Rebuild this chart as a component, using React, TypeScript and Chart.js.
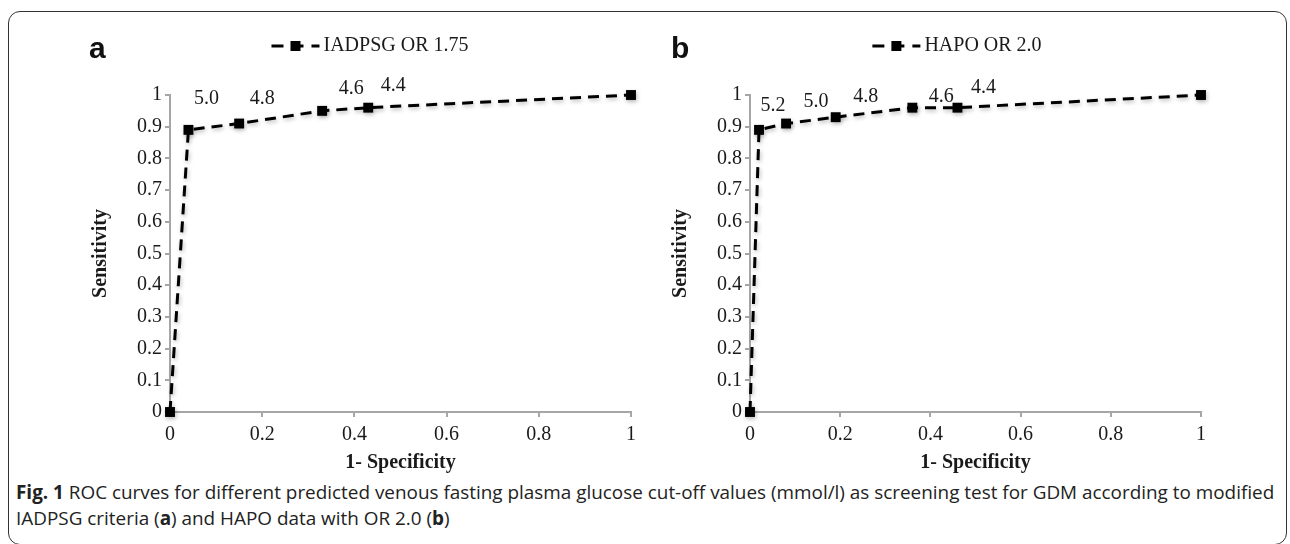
import React, { useEffect, useRef } from "react";
import { Chart, registerables } from "chart.js";

Chart.register(...registerables);

// ---------- data ----------
const xTickValues = [0, 0.2, 0.4, 0.6, 0.8, 1];
const yTickValues = [0, 0.1, 0.2, 0.3, 0.4, 0.5, 0.6, 0.7, 0.8, 0.9, 1];

const iadpsgLabel = "IADPSG OR 1.75";
const iadpsgFpr = [0, 0.04, 0.15, 0.33, 0.43, 1];
const iadpsgSens = [0, 0.89, 0.91, 0.95, 0.96, 1];
const iadpsgCutoffs = ["", "5.0", "4.8", "4.6", "4.4", ""];

const hapoLabel = "HAPO OR 2.0";
const hapoFpr = [0, 0.02, 0.08, 0.19, 0.36, 0.46, 1];
const hapoSens = [0, 0.89, 0.91, 0.93, 0.96, 0.96, 1];
const hapoCutoffs = ["", "5.2", "5.0", "4.8", "4.6", "4.4", ""];

const xTitle = "1- Specificity";
const yTitle = "Sensitivity";

// ---------- styles ----------
const SERIF = "'Liberation Serif', 'Times New Roman', serif";
const AXIS_GRAY = "#a6a6a6";
const TEXT = "#1a1a1a";

// pixel offsets of the cut-off labels from their points (style only)
const iadpsgLabelOffsets: (number[] | null)[] = [null, [18, -31], [23, -25], [29, -22], [25, -22], null];
const hapoLabelOffsets: (number[] | null)[] = [null, [14, -24], [30, -22], [30, -20], [29, -11], [26, -20], null];

const cutoffLabelPlugin = {
  id: "cutoffLabels",
  beforeDatasetsDraw(chart: any) {
    const ctx = chart.ctx;
    ctx.save();
    ctx.shadowColor = "rgba(0,0,0,0.28)";
    ctx.shadowBlur = 4;
    ctx.shadowOffsetX = 1;
    ctx.shadowOffsetY = 2;
  },
  afterDatasetsDraw(chart: any, _args: any, opts: any) {
    const ctx = chart.ctx;
    ctx.restore();
    const meta = chart.getDatasetMeta(0);
    ctx.save();
    ctx.font = `20px ${SERIF}`;
    ctx.fillStyle = TEXT;
    ctx.textAlign = "center";
    ctx.textBaseline = "middle";
    meta.data.forEach((pt: any, i: number) => {
      const txt = opts.labels[i];
      const off = opts.offsets[i];
      if (!txt || !off) return;
      ctx.fillText(txt, pt.x + off[0], pt.y + off[1]);
    });
    ctx.restore();
  },
};

const sampleLegendPlugin = {
  id: "sampleLegend",
  afterDraw(chart: any, _args: any, opts: any) {
    const ctx = chart.ctx;
    const ds = chart.data.datasets[0];
    ctx.save();
    ctx.font = `20px ${SERIF}`;
    const textW = ctx.measureText(ds.label).width;
    const sampleW = 48;
    const gap = 4;
    const total = sampleW + gap + textW;
    const x0 = opts.center - total / 2;
    const y = opts.y;
    ctx.strokeStyle = "#000";
    ctx.lineWidth = 3;
    ctx.setLineDash([12, 8]);
    ctx.beginPath();
    ctx.moveTo(x0, y);
    ctx.lineTo(x0 + sampleW, y);
    ctx.stroke();
    ctx.setLineDash([]);
    ctx.fillStyle = "#000";
    ctx.fillRect(x0 + sampleW / 2 - 5, y - 5, 10, 10);
    ctx.fillStyle = TEXT;
    ctx.textAlign = "left";
    ctx.textBaseline = "middle";
    ctx.fillText(ds.label, x0 + sampleW + gap, y);
    ctx.restore();
  },
};

function makeConfig(
  label: string,
  xs: number[],
  ys: number[],
  cutoffs: string[],
  offsets: (number[] | null)[],
  legendCenter: number
): any {
  const tickFont = { family: SERIF, size: 20 };
  const titleFont = { family: SERIF, size: 20, weight: "bold" as const };
  return {
    type: "scatter",
    data: {
      datasets: [
        {
          label,
          data: xs.map((x, i) => ({ x, y: ys[i] })),
          showLine: true,
          borderColor: "#000",
          borderWidth: 3,
          borderDash: [11, 7],
          pointStyle: "rect",
          pointRadius: 7,
          pointBackgroundColor: "#000",
          pointBorderColor: "#000",
          pointBorderWidth: 0,
          clip: false,
        },
      ],
    },
    options: {
      animation: false,
      responsive: false,
      devicePixelRatio: 1,
      layout: { padding: { left: 0, right: 10, top: 75, bottom: 0 } },
      plugins: {
        legend: { display: false },
        tooltip: { enabled: false },
        cutoffLabels: { labels: cutoffs, offsets },
        sampleLegend: { center: legendCenter, y: 26 },
      },
      scales: {
        x: {
          type: "linear",
          min: 0,
          max: 1,
          afterBuildTicks: (s: any) => {
            s.ticks = xTickValues.map((v) => ({ value: v }));
          },
          afterFit: (s: any) => {
            s.height = 63;
          },
          ticks: { font: tickFont, color: TEXT, padding: 6, callback: (v: any) => String(v) },
          grid: { drawOnChartArea: false, tickLength: 5, color: AXIS_GRAY, lineWidth: 2 },
          border: { color: AXIS_GRAY, width: 2 },
          title: { display: true, text: xTitle, font: titleFont, color: TEXT, padding: 0 },
        },
        y: {
          type: "linear",
          min: 0,
          max: 1,
          afterBuildTicks: (s: any) => {
            s.ticks = yTickValues.map((v) => ({ value: v }));
          },
          afterFit: (s: any) => {
            s.width = 81;
          },
          ticks: { font: tickFont, color: TEXT, padding: 3, callback: (v: any) => String(v) },
          grid: { drawOnChartArea: false, tickLength: 5, color: AXIS_GRAY, lineWidth: 2 },
          border: { color: AXIS_GRAY, width: 2 },
          title: { display: true, text: yTitle, font: titleFont, color: TEXT, padding: 0 },
        },
      },
    },
    plugins: [cutoffLabelPlugin, sampleLegendPlugin],
  };
}

function RocChart(props: { left: number; width: number; config: any }) {
  const ref = useRef<HTMLCanvasElement | null>(null);
  useEffect(() => {
    if (!ref.current) return;
    const chart = new Chart(ref.current, props.config);
    return () => chart.destroy();
  }, []);
  return (
    <canvas
      ref={ref}
      width={props.width}
      height={455}
      style={{ position: "absolute", left: props.left, top: 20, width: props.width, height: 455 }}
    />
  );
}

export default function App() {
  const cfgA = makeConfig(iadpsgLabel, iadpsgFpr, iadpsgSens, iadpsgCutoffs, iadpsgLabelOffsets, 281);
  const cfgB = makeConfig(hapoLabel, hapoFpr, hapoSens, hapoCutoffs, hapoLabelOffsets, 288);
  const panelLetter: React.CSSProperties = {
    position: "absolute",
    top: 30,
    fontFamily: "'Liberation Sans', Arial, sans-serif",
    fontWeight: "bold",
    fontSize: 30,
    lineHeight: "36px",
    color: "#111",
  };
  return (
    <div style={{ position: "absolute", left: 0, top: 0, width: 1290, height: 544, background: "#fff", overflow: "hidden" }}>
      <div
        style={{
          position: "absolute",
          left: 8,
          top: 11,
          width: 1279,
          height: 534,
          border: "1.5px solid #333",
          borderRadius: 12,
          boxSizing: "border-box",
        }}
      />
      <RocChart left={89} width={553} config={cfgA} />
      <RocChart left={669} width={543} config={cfgB} />
      <div style={{ ...panelLetter, left: 89 }}>a</div>
      <div style={{ ...panelLetter, left: 671 }}>b</div>
      <div
        style={{
          position: "absolute",
          left: 16,
          top: 479,
          fontFamily: "'Open Sans', sans-serif",
          fontSize: 18.9,
          lineHeight: "26px",
          color: "#222",
          whiteSpace: "nowrap",
        }}
      >
        <b>Fig. 1</b> ROC curves for different predicted venous fasting plasma glucose cut-off values (mmol/l) as screening test for GDM according to modified
        <br />
        IADPSG criteria (<b>a</b>) and HAPO data with OR 2.0 (<b>b</b>)
      </div>
    </div>
  );
}
